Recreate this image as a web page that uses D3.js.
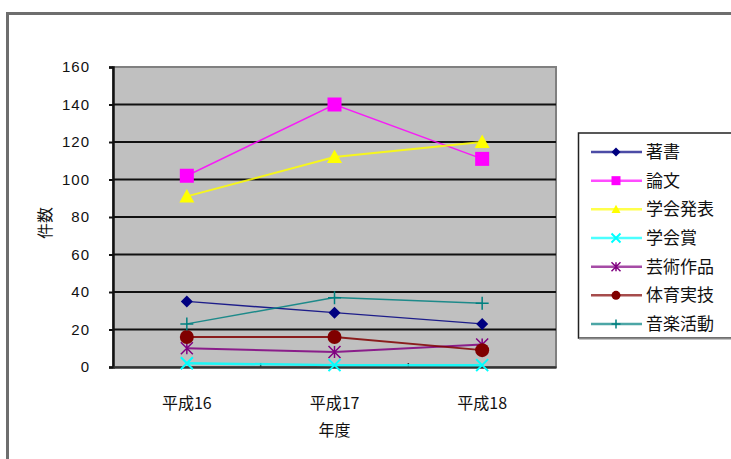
<!DOCTYPE html>
<html>
<head>
<meta charset="utf-8">
<script src="https://cdn.jsdelivr.net/npm/d3@7"></script>
<style>
  html, body { margin: 0; padding: 0; background: #fff; }
  svg { display: block; }
  .jp { font-family: "Noto Sans CJK JP", "Noto Sans", sans-serif; }
  .num { font-family: "Liberation Sans", Arial, sans-serif; }
</style>
</head>
<body>
<svg id="chart" width="731" height="459"></svg>
<script>
// Fiscal years (category axis)
const years = ["平成16", "平成17", "平成18"];
// Count per year for each kind of achievement
const chosho   = [35, 29, 23];    // 著書
const ronbun   = [102, 140, 111]; // 論文
const gakkai   = [91, 112, 120];  // 学会発表
const gakkaisho = [2, 1, 1];      // 学会賞
const geijutsu = [10, 8, 12];     // 芸術作品
const taiiku   = [16, 16, 9];     // 体育実技
const ongaku   = [23, 37, 34];    // 音楽活動
const yTicks = [0, 20, 40, 60, 80, 100, 120, 140, 160];

const series = [
  { name: "著書",     values: chosho,    color: "#000080", marker: "diamond",  width: 1.5 },
  { name: "論文",     values: ronbun,    color: "#FF00FF", marker: "square",   width: 1.5 },
  { name: "学会発表", values: gakkai,    color: "#FFFF00", marker: "triangle", width: 2 },
  { name: "学会賞",   values: gakkaisho, color: "#00FFFF", marker: "x",        width: 2.5 },
  { name: "芸術作品", values: geijutsu,  color: "#800080", marker: "star",     width: 2 },
  { name: "体育実技", values: taiiku,    color: "#800000", marker: "circle",   width: 2 },
  { name: "音楽活動", values: ongaku,    color: "#008080", marker: "plus",     width: 1.5 }
];

const svg = d3.select("#chart");

// outer chart frame
svg.append("rect")
  .attr("x", 7.5).attr("y", 13.5).attr("width", 800).attr("height", 500)
  .attr("fill", "#fff").attr("stroke", "#6e6e6e").attr("stroke-width", 3);

const plot = { left: 113, right: 556, top: 67, bottom: 367 };

const x = d3.scaleBand().domain(years).range([plot.left, plot.right]);
const y = d3.scaleLinear().domain([0, 160]).range([plot.bottom, plot.top]);
const cx = d => x(d) + x.bandwidth() / 2;

// plot background
svg.append("rect")
  .attr("x", plot.left).attr("y", plot.top)
  .attr("width", plot.right - plot.left).attr("height", plot.bottom - plot.top)
  .attr("fill", "#C0C0C0").attr("stroke", "#808080").attr("stroke-width", 2);

// horizontal gridlines
svg.append("g").selectAll("line").data(yTicks.filter(t => t > 0 && t < 160)).join("line")
  .attr("x1", plot.left).attr("x2", plot.right)
  .attr("y1", d => y(d)).attr("y2", d => y(d))
  .attr("stroke", "#111").attr("stroke-width", 2);

// y axis
const yAxis = d3.axisLeft(y).tickValues(yTicks).tickSize(4).tickFormat(d3.format("d"));
const gy = svg.append("g").attr("transform", `translate(${plot.left},0)`).call(yAxis);
gy.select(".domain").attr("stroke", "#111").attr("stroke-width", 2.5);
gy.selectAll(".tick line").attr("stroke", "#111").attr("stroke-width", 2);
gy.selectAll(".tick text")
  .attr("class", "num").attr("x", -23)
  .attr("font-size", 15).attr("fill", "#111").attr("letter-spacing", 1);

// x axis
const xAxis = d3.axisBottom(x).tickSize(0).tickPadding(0);
const gx = svg.append("g").attr("transform", `translate(0,${plot.bottom})`).call(xAxis);
gx.select(".domain").attr("stroke", "#333").attr("stroke-width", 2.5);
gx.selectAll(".tick text")
  .attr("class", "jp").attr("dy", 0).attr("y", 42)
  .attr("font-size", 16).attr("fill", "#111");

// category separator ticks
svg.append("g").selectAll("line").data(years.slice(1)).join("line")
  .attr("x1", d => x(d)).attr("x2", d => x(d))
  .attr("y1", plot.bottom - 4).attr("y2", plot.bottom)
  .attr("stroke", "#333").attr("stroke-width", 1.5);

// axis titles
svg.append("text").attr("class", "jp")
  .attr("x", cx(years[1])).attr("y", 436)
  .attr("text-anchor", "middle").attr("font-size", 16).attr("fill", "#111")
  .text("年度");
svg.append("text").attr("class", "jp")
  .attr("transform", `translate(51,223) rotate(-90)`)
  .attr("text-anchor", "middle").attr("font-size", 16).attr("fill", "#111")
  .text("件数");

// marker drawing
function drawMarker(g, type, color, s) {
  const h = s / 2;
  switch (type) {
    case "diamond":
      g.append("path").attr("d", `M0,${-h}L${h},0L0,${h}L${-h},0Z`).attr("fill", color);
      break;
    case "square":
      g.append("rect").attr("x", -h).attr("y", -h).attr("width", s).attr("height", s).attr("fill", color);
      break;
    case "triangle":
      g.append("path").attr("d", `M0,${-h}L${h},${h * 0.8}L${-h},${h * 0.8}Z`).attr("fill", color);
      break;
    case "circle":
      g.append("circle").attr("r", h).attr("fill", color);
      break;
    case "x":
      g.append("path").attr("d", `M${-h},${-h}L${h},${h}M${h},${-h}L${-h},${h}`)
        .attr("stroke", color).attr("stroke-width", 2).attr("fill", "none");
      break;
    case "plus":
      g.append("path").attr("d", `M${-h},0L${h},0M0,${-h}L0,${h}`)
        .attr("stroke", color).attr("stroke-width", 1.5).attr("fill", "none");
      break;
    case "star":
      g.append("path").attr("d", `M${-h},${-h}L${h},${h}M${h},${-h}L${-h},${h}M0,${-h}L0,${h}`)
        .attr("stroke", color).attr("stroke-width", 1.5).attr("fill", "none");
      break;
  }
}

const markerSize = { diamond: 12, square: 14, triangle: 15, circle: 14, x: 12, plus: 13, star: 12 };

const line = d3.line().x((d, i) => cx(years[i])).y(d => y(d));

series.forEach(s => {
  const g = svg.append("g");
  g.append("path").datum(s.values)
    .attr("d", line).attr("fill", "none")
    .attr("stroke", s.color).attr("stroke-width", s.width).attr("stroke-opacity", 0.85);
  s.values.forEach((v, i) => {
    const m = g.append("g").attr("transform", `translate(${cx(years[i])},${y(v)})`);
    drawMarker(m, s.marker, s.color, markerSize[s.marker]);
  });
});

// legend
const lg = svg.append("g");
lg.append("rect")
  .attr("x", 578.5).attr("y", 133).attr("width", 170).attr("height", 205)
  .attr("fill", "#fff").attr("stroke", "#222").attr("stroke-width", 1.5);
lg.append("line")
  .attr("x1", 579).attr("x2", 740).attr("y1", 338.5).attr("y2", 338.5)
  .attr("stroke", "#888").attr("stroke-width", 2);

const legendY = d3.scalePoint().domain(series.map(s => s.name)).range([152, 324]);
series.forEach(s => {
  const row = lg.append("g").attr("transform", `translate(0,${legendY(s.name)})`);
  row.append("line").attr("x1", 591).attr("x2", 642).attr("y1", 0).attr("y2", 0)
    .attr("stroke", s.color).attr("stroke-width", 2.5).attr("stroke-opacity", 0.7);
  const m = row.append("g").attr("transform", "translate(616,0)");
  drawMarker(m, s.marker, s.color, 9);
  row.append("text").attr("class", "jp")
    .attr("x", 646).attr("y", 0).attr("dy", "0.36em")
    .attr("font-size", 17).attr("fill", "#111")
    .text(s.name);
});
</script>
</body>
</html>
